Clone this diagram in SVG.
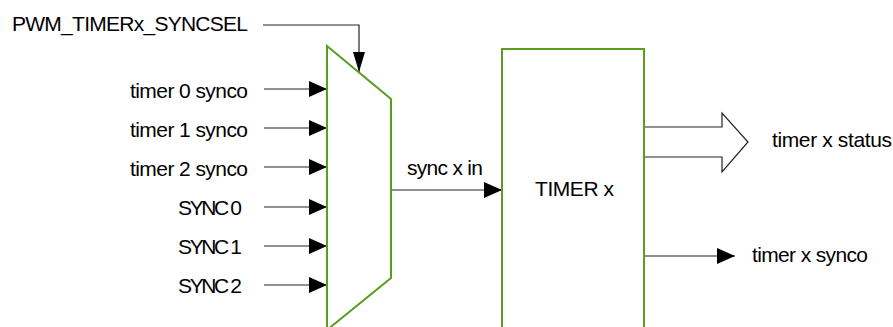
<svg xmlns="http://www.w3.org/2000/svg" width="893" height="327" viewBox="0 0 893 327">
<style>
text{font-family:"Liberation Sans",Arial,sans-serif;font-size:21px;fill:#000}
.ln{fill:none;stroke:#222;stroke-width:1.2}
.blk{fill:none;stroke:#5b9e1f;stroke-width:2}
</style>
<defs>
<marker id="ah" markerUnits="userSpaceOnUse" markerWidth="18" markerHeight="16" refX="18" refY="8" orient="auto">
<path d="M0,0 L18,8 L0,16 z" fill="#000"/>
</marker>
<marker id="ahs" markerUnits="userSpaceOnUse" markerWidth="20" markerHeight="12" refX="20" refY="6" orient="auto">
<path d="M0,0 L20,6 L0,12 z" fill="#000"/>
</marker>
</defs>
<g id="connectors">
<path class="ln" d="M263,25 H359 V72" marker-end="url(#ahs)"/>
<path class="ln" d="M264,89 H327" marker-end="url(#ah)"/>
<path class="ln" d="M264,128 H327" marker-end="url(#ah)"/>
<path class="ln" d="M264,167 H327" marker-end="url(#ah)"/>
<path class="ln" d="M264,207 H327" marker-end="url(#ah)"/>
<path class="ln" d="M264,246 H327" marker-end="url(#ah)"/>
<path class="ln" d="M264,285 H327" marker-end="url(#ah)"/>
<path class="ln" d="M391,190 H502" marker-end="url(#ah)"/>
<path class="ln" d="M644,256 H735" marker-end="url(#ah)"/>
<path class="ln" d="M644,127 H722 V113 L748,142 L722,172 V157 H644" fill="#fff"/>
</g>
<g id="labels">
<text x="12" y="31" textLength="236">PWM_TIMERx_SYNCSEL</text>
<text x="130" y="98" textLength="118">timer 0 synco</text>
<text x="130" y="137" textLength="118">timer 1 synco</text>
<text x="130" y="176" textLength="118">timer 2 synco</text>
<text x="178" y="215" textLength="64">SYNC 0</text>
<text x="178" y="254" textLength="64">SYNC 1</text>
<text x="178" y="293" textLength="64">SYNC 2</text>
<text x="407" y="175" textLength="76">sync x in</text>
<text x="772" y="147" textLength="120">timer x status</text>
<text x="752" y="262" textLength="116">timer x synco</text>
</g>
<g id="mux">
<path class="blk" d="M327,46 L391,99 V278 L327,330 Z" fill="#fff"/>
</g>
<g id="timer">
<rect class="blk" x="502" y="49" width="142" height="290" fill="#fff"/>
<text x="535" y="196" textLength="79">TIMER x</text>
</g>
</svg>
